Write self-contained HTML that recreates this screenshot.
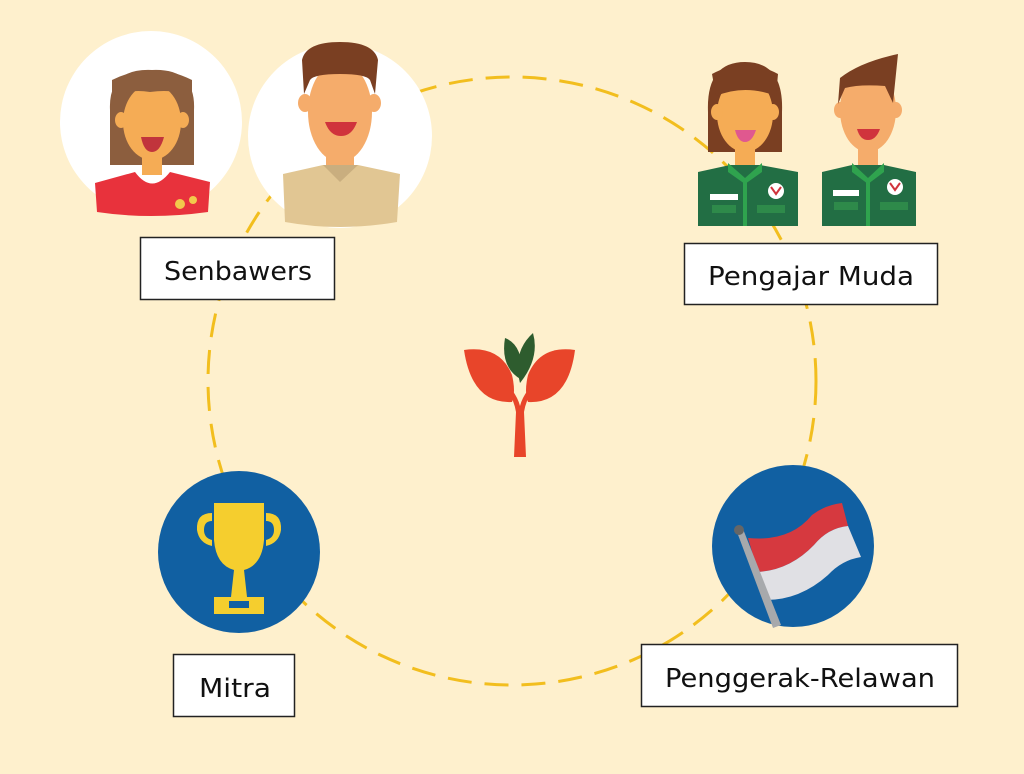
<!DOCTYPE html>
<html><head><meta charset="utf-8"><style>
html,body{margin:0;padding:0;background:#FEF0CD;}
svg{display:block}
text{font-family:"DejaVu Sans","Liberation Sans",sans-serif;fill:#111;}
</style></head><body>
<svg width="1024" height="774" viewBox="0 0 1024 774" xmlns="http://www.w3.org/2000/svg">
<rect width="1024" height="774" fill="#FEF0CD"/>
<circle cx="512" cy="381" r="304" fill="none" stroke="#F2BE1E" stroke-width="3" stroke-dasharray="24 13"/>

<!-- woman circle -->
<circle cx="151" cy="122" r="91" fill="#FFFFFF"/>
<g>
  <path d="M110 110 Q108 68 152 70 Q196 68 194 110 L194 165 L110 165 Z" fill="#8C5E3E"/>
  <rect x="142" y="145" width="20" height="30" fill="#F5AC55"/>
  <ellipse cx="152" cy="122" rx="29" ry="38" fill="#F5AC55"/>
  <ellipse cx="121" cy="120" rx="6" ry="8" fill="#F5AC55"/>
  <ellipse cx="183" cy="120" rx="6" ry="8" fill="#F5AC55"/>
  <path d="M112 100 Q125 88 150 92 Q180 88 192 100 L192 80 Q152 60 112 80 Z" fill="#8C5E3E"/>
  <path d="M141 137 L164 137 Q160 152 152 152 Q144 152 141 137 Z" fill="#C1343C"/>
  <path d="M95 183 L135 172 Q152 195 170 172 L210 182 L208 212 Q150 220 97 212 Z" fill="#E8323C"/>
  <circle cx="180" cy="204" r="5" fill="#F2C94C"/><circle cx="193" cy="200" r="4" fill="#F2C94C"/>
</g>
<!-- man circle -->
<circle cx="340" cy="136" r="92" fill="#FFFFFF"/>
<g>
  <rect x="326" y="150" width="28" height="32" fill="#F5AC6B"/>
  <ellipse cx="340" cy="112" rx="32" ry="50" fill="#F5AC6B"/>
  <ellipse cx="305" cy="103" rx="7" ry="9" fill="#F5AC6B"/>
  <ellipse cx="374" cy="103" rx="7" ry="9" fill="#F5AC6B"/>
  <path d="M304 94 L302 60 Q306 42 340 42 Q374 42 378 60 L375 94 L370 80 Q366 74 340 74 Q314 74 310 80 Z" fill="#7A3F22"/>
  <path d="M325 122 L357 122 Q352 136 341 136 Q330 136 325 122 Z" fill="#D0333C"/>
  <path d="M283 174 L323 165 L358 165 L400 174 L397 222 Q340 232 285 222 Z" fill="#E1C693"/>
  <path d="M323 165 L340 182 L358 165 Z" fill="#C9AE7F"/>
</g>

<!-- pengajar muda woman -->
<g>
  <path d="M708 112 Q706 62 745 62 Q784 62 782 112 L782 152 L708 152 Z" fill="#7A3F22"/>
  <ellipse cx="745" cy="114" rx="28" ry="38" fill="#F5AC55"/>
  <ellipse cx="717" cy="112" rx="6" ry="8" fill="#F5AC55"/>
  <ellipse cx="773" cy="112" rx="6" ry="8" fill="#F5AC55"/>
  <path d="M716 96 Q745 84 776 96 L778 74 Q745 56 712 74 Z" fill="#7A3F22"/>
  <path d="M735 130 L756 130 Q752 142 745 142 Q738 142 735 130 Z" fill="#E0588F"/>
  <rect x="735" y="148" width="20" height="20" fill="#F5AC55"/>
  <path d="M698 172 L730 165 L760 165 L798 172 L798 226 L698 226 Z" fill="#226E44"/>
  <path d="M728 163 L745 178 L762 163 L762 172 L745 184 L728 172 Z" fill="#2FA34E"/>
  <rect x="743" y="178" width="4" height="48" fill="#2FA34E"/>
  <rect x="710" y="194" width="28" height="6" fill="#fff"/>
  <rect x="712" y="205" width="24" height="8" fill="#2E8A4A"/>
  <rect x="757" y="205" width="28" height="8" fill="#2E8A4A"/>
  <circle cx="776" cy="191" r="8" fill="#fff"/><path d="M771 187 L776 194 L781 187" stroke="#D0333C" stroke-width="2" fill="none"/>
</g>
<!-- pengajar muda man -->
<g>
  <ellipse cx="868" cy="110" rx="28" ry="42" fill="#F5AC6B"/>
  <ellipse cx="840" cy="110" rx="6" ry="8" fill="#F5AC6B"/>
  <ellipse cx="896" cy="110" rx="6" ry="8" fill="#F5AC6B"/>
  <path d="M838 104 L840 78 Q860 62 898 54 L893 103 L885 86 Q860 84 845 88 Z" fill="#7A3F22"/>
  <path d="M857 129 L880 129 Q876 140 868 140 Q860 140 857 129 Z" fill="#D0333C"/>
  <rect x="858" y="148" width="20" height="20" fill="#F5AC6B"/>
  <path d="M822 172 L852 165 L884 165 L916 172 L916 226 L822 226 Z" fill="#226E44"/>
  <path d="M852 163 L868 178 L884 163 L884 172 L868 184 L852 172 Z" fill="#2FA34E"/>
  <rect x="866" y="178" width="4" height="48" fill="#2FA34E"/>
  <rect x="833" y="190" width="26" height="6" fill="#fff"/>
  <rect x="834" y="202" width="24" height="8" fill="#2E8A4A"/>
  <rect x="880" y="202" width="28" height="8" fill="#2E8A4A"/>
  <circle cx="895" cy="187" r="8" fill="#fff"/><path d="M890 183 L895 190 L900 183" stroke="#D0333C" stroke-width="2" fill="none"/>
</g>

<!-- plant -->
<g>
  <path d="M514 457 L516 412 Q514 400 508 392 L512 390 Q518 398 520 406 Q522 398 528 390 L532 392 Q526 400 524 412 L526 457 Z" fill="#E8452A"/>
  <path d="M464 350 Q500 345 512 375 Q516 392 512 402 Q472 404 464 350 Z" fill="#E8452A"/>
  <path d="M575 350 Q540 345 528 375 Q524 392 528 402 Q568 404 575 350 Z" fill="#E8452A"/>
  <path d="M505 338 Q524 345 522 380 Q500 368 505 338 Z" fill="#2E5C2E"/>
  <path d="M533 333 Q540 358 520 383 Q512 352 533 333 Z" fill="#2E5C2E"/>
</g>

<!-- mitra -->
<circle cx="239" cy="552" r="81" fill="#1160A2"/>
<g fill="#F5CE2E">
  <path d="M214 503 L264 503 L264 540 Q262 565 244 570 L247 597 L231 597 L234 570 Q216 565 214 540 Z"/>
  <path d="M212 513 Q196 513 197 530 Q199 543 212 546 L212 540 Q204 538 204 530 Q204 521 212 521 Z"/>
  <path d="M266 513 Q282 513 281 530 Q279 543 266 546 L266 540 Q274 538 274 530 Q274 521 266 521 Z"/>
  <rect x="214" y="597" width="50" height="17"/>
</g>
<rect x="229" y="601" width="20" height="7" fill="#1160A2"/>

<!-- flag -->
<circle cx="793" cy="546" r="81" fill="#1160A2"/>
<path d="M748 538 Q790 542 812 515 Q825 505 842 503 L848 526 Q828 528 814 545 Q790 570 758 572 Z" fill="#D6393F"/>
<path d="M758 572 Q790 570 814 545 Q828 528 848 526 L861 557 Q842 560 828 575 Q800 600 766 600 Z" fill="#E0E0E4"/>
<path d="M737 532 L743 529 L781 625 L773 628 Z" fill="#A7A9AC"/>
<circle cx="739" cy="530" r="5" fill="#666"/>

<!-- labels -->
<rect x="140.5" y="237.5" width="194" height="62" fill="#fff" stroke="#222" stroke-width="1.5"/>
<text x="238" y="280" font-size="26" text-anchor="middle" textLength="148" lengthAdjust="spacingAndGlyphs">Senbawers</text>
<rect x="684.5" y="243.5" width="253" height="61" fill="#fff" stroke="#222" stroke-width="1.5"/>
<text x="811" y="285" font-size="26" text-anchor="middle" textLength="206" lengthAdjust="spacingAndGlyphs">Pengajar Muda</text>
<rect x="173.5" y="654.5" width="121" height="62" fill="#fff" stroke="#222" stroke-width="1.5"/>
<text x="235" y="697" font-size="26" text-anchor="middle" textLength="72" lengthAdjust="spacingAndGlyphs">Mitra</text>
<rect x="641.5" y="644.5" width="316" height="62" fill="#fff" stroke="#222" stroke-width="1.5"/>
<text x="800" y="687" font-size="26" text-anchor="middle" textLength="270" lengthAdjust="spacingAndGlyphs">Penggerak-Relawan</text>
</svg>
</body></html>
